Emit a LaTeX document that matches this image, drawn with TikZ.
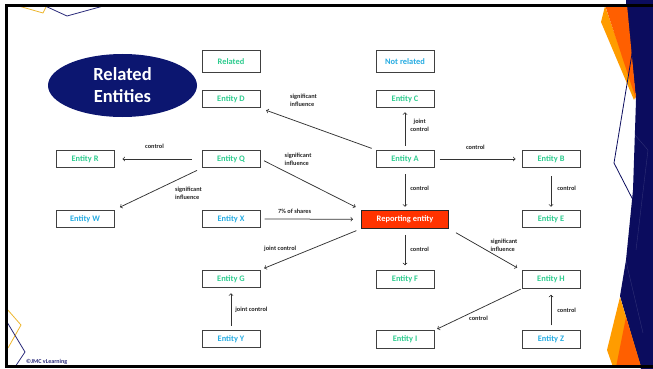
\documentclass[tikz,border=0pt]{standalone}
\usepackage{fontspec}
\setmainfont{Carlito}
\usetikzlibrary{arrows, positioning, shapes.geometric}
\definecolor{entgreen}{HTML}{2ECC8F}
\definecolor{entblue}{HTML}{26ACE2}
\definecolor{slidenavy}{HTML}{0B0C5E}
\definecolor{ovalnavy}{HTML}{0C1670}
\definecolor{repred}{HTML}{FF3300}
\definecolor{darkorange}{HTML}{FF5F00}
\definecolor{lightorange}{HTML}{FF9C00}
\definecolor{decoline}{HTML}{2A2A7A}
\definecolor{decoyellow}{HTML}{EDB62E}
\tikzset{%
	ent/.style={draw=black!75, line width=1pt, rectangle, minimum width=58pt,%
		minimum height=17.5pt, inner sep=0pt, fill=white, text=entgreen,%
		font=\bfseries\fontsize{8.4}{10}\selectfont},
	unrel/.style={ent, text=entblue},
	head/.style={minimum height=22pt},
	rep/.style={ent, minimum width=87pt, minimum height=18pt, fill=repred, draw=black!85, text=white},
	oval/.style={ellipse, fill=ovalnavy, minimum width=149pt, minimum height=63pt, inner sep=0pt,%
		text=white, align=center, font=\bfseries\fontsize{18.5}{22}\selectfont},
	sel/.style={->, line width=0.75pt, draw=black!80},
	lbl/.style={font=\bfseries\fontsize{6.3}{7.8}\selectfont, text=black!85, inner sep=1pt, align=left},
	deco/.style={line width=0.8pt, line join=miter}
}

\begin{document}
\begin{tikzpicture}[x=1pt, y=-1pt, node distance=41.5pt and 87pt]
	\useasboundingbox (0,0) rectangle (653,369);
	% slide decoration
	\fill[slidenavy] (626,5) -- (636,100) -- (633,190) -- (626,260) -- (620,296) -- (641,369) -- (660,369) -- (660,0) -- (626,0) -- cycle;
	\fill[lightorange] (601,22) -- (605,6) -- (636,95) -- (634,100) -- cycle;
	\fill[darkorange] (605,5) -- (627,5) -- (636,99) -- cycle;
	\fill[lightorange] (620,297) -- (607,350) -- (613,367) -- (641,367) -- cycle;
	\fill[darkorange] (626,317) -- (616,367) -- (641,367) -- cycle;
	\draw[deco, draw=slidenavy] (640,5) -- (614,163) -- (633,200);
	\draw[line width=0.4pt, draw=white, opacity=0.15] (628,127) -- (648,150) -- (636,250);
	\draw[line width=0.4pt, draw=white, opacity=0.15] (625,257) -- (643,333);
	\draw[deco, draw=decoyellow] (15,5) -- (43,13) -- (47,5);
	\draw[deco, draw=decoline] (43,5) -- (67,16) -- (107,5);
	\draw[deco, draw=decoyellow] (7,309) -- (21,325) -- (8,348);
	\draw[deco, draw=decoline] (7,322) -- (25,352) -- (15,367);
	\draw[line width=2.6pt] (662,5.4) -- (6.5,5.4) -- (6.5,366.6) -- (662,366.6);
	\node[font=\bfseries\fontsize{6}{7}\selectfont, text=decoline, inner sep=0pt, anchor=west] (copy) at (26,362) {©JMC vLearning};

	% entities
	\node[oval] (title) at (122.5,85.5) {Related\\Entities};
	\node[ent] (A) at (405,159) {Entity A};
	\node[ent] (C) [above=of A] {Entity C};
	\node[unrel, head] (notrel) [above=17pt of C] {Not related};
	\node[ent] (B) [right=of A] {Entity B};
	\node[ent] (E) [below=of B] {Entity E};
	\node[rep] (rep) [below=of A] {Reporting entity};
	\node[ent] (F) [below=of rep] {Entity F};
	\node[ent] (I) [below=of F] {Entity I};
	\node[ent] (H) [right=of F] {Entity H};
	\node[unrel] (Z) [below=of H] {Entity Z};
	\node[ent] (Q) [left=115pt of A] {Entity Q};
	\node[ent] (D) [above=of Q] {Entity D};
	\node[ent, head] (rel) [above=17pt of D] {Related};
	\node[ent] (R) [left=of Q] {Entity R};
	\node[unrel] (X) [below=of Q] {Entity X};
	\node[unrel] (W) [left=of X] {Entity W};
	\node[ent] (G) [below=of X] {Entity G};
	\node[unrel] (Y) [below=of G] {Entity Y};

	% relations
	\draw [sel, shorten <=4pt, shorten >=6pt] (A.north west) to node[lbl, pos=.626, yshift=23.3pt]{significant\\influence} (D.south east);
	\draw [sel, shorten <=4pt, shorten >=4pt] (A.north) to node[lbl, pos=.58, right=4pt, align=center]{joint\\control} (C.south);
	\draw [sel, shorten <=5pt, shorten >=6pt] (A.east) to node[lbl, pos=.47, yshift=12pt]{control} (B.west);
	\draw [sel, shorten <=6pt, shorten >=3pt] (A.south) to node[lbl, pos=.49, right=4pt]{control} (rep.north);
	\draw [sel, shorten <=8pt, shorten >=3pt] (B.south) to node[lbl, pos=.49, right=5pt]{control} (E.north);
	\draw [sel, shorten <=10pt, shorten >=8pt] (Q.west) to node[lbl, pos=.54, yshift=12.5pt]{control} (R.east);
	\draw [sel, shorten <=5pt, shorten >=6pt] (Q.south west) to node[lbl, pos=.15, yshift=-18.9pt]{significant\\influence} (W.north east);
	\draw [sel, shorten <=4pt, shorten >=6pt] (Q.east) to node[lbl, pos=.374, yshift=18.8pt]{significant\\influence} (rep.north west);
	\draw [sel, shorten <=4pt, shorten >=8pt] (X.east) to node[lbl, pos=.34, yshift=8pt]{7\% of shares} (rep.west);
	\draw [sel, shorten <=5pt, shorten >=4pt] (rep.south west) to node[lbl, pos=.804, yshift=12.6pt]{joint control} (G.north east);
	\draw [sel, shorten <=4pt, shorten >=5pt] (Y.north) to node[lbl, pos=.49, right=3pt]{joint control} (G.south);
	\draw [sel, shorten <=6pt, shorten >=5pt] (rep.south) to node[lbl, pos=.5, right=4pt]{control} (F.north);
	\draw [sel, shorten <=8pt, shorten >=5pt] (rep.south east) to node[lbl, pos=.759, yshift=14.7pt]{significant\\influence} (H.north west);
	\draw [sel, shorten <=1pt, shorten >=3pt] (H.south west) to node[lbl, pos=.494, yshift=-9pt]{control} (I.north east);
	\draw [sel, shorten <=5pt, shorten >=6pt] (Z.north) to node[lbl, pos=.48, right=5pt]{control} (H.south);
\end{tikzpicture}
\end{document}
